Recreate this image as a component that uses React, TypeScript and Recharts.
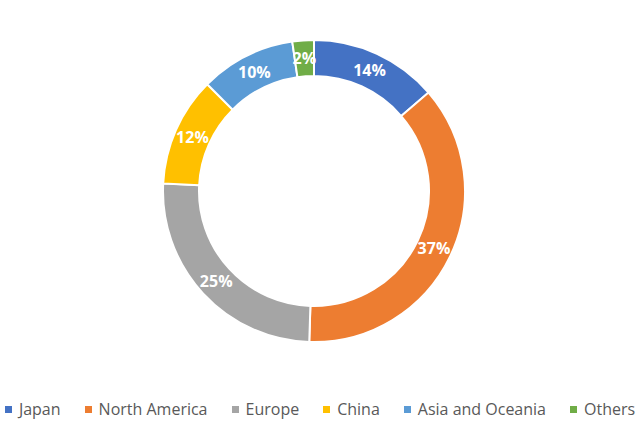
import React from "react"
import { PieChart, Pie, Cell, Legend } from "recharts"

const regions = ["Japan", "North America", "Europe", "China", "Asia and Oceania", "Others"]
const shares = [13.7, 36.8, 25.3, 11.7, 10.2, 2.3]
const colors = ["#4472C4", "#ED7D31", "#A5A5A5", "#FFC000", "#5B9BD5", "#70AD47"]

const data = regions.map((name, i) => ({ name, value: shares[i] }))

const RADIAN = Math.PI / 180

const renderLabel = (props: any) => {
  const { cx, cy, midAngle, innerRadius, outerRadius, percent } = props
  const r = (innerRadius + outerRadius) / 2
  const x = cx + r * Math.cos(-midAngle * RADIAN)
  const y = cy + r * Math.sin(-midAngle * RADIAN)
  return (
    <text
      x={x}
      y={y}
      fill="#ffffff"
      textAnchor="middle"
      dominantBaseline="central"
      fontSize={16}
      fontWeight="bold"
      fontFamily="'Open Sans', sans-serif"
    >
      {`${Math.round(percent * 100)}%`}
    </text>
  )
}

const renderLegend = () => (
  <div
    style={{
      display: "flex",
      justifyContent: "center",
      gap: 24,
      fontFamily: "'Open Sans', sans-serif",
      fontSize: 16,
      color: "#595959",
      whiteSpace: "nowrap",
    }}
  >
    {regions.map((name, i) => (
      <div key={name} style={{ display: "flex", alignItems: "center" }}>
        <span
          style={{
            display: "inline-block",
            width: 7,
            height: 7,
            background: colors[i],
            marginRight: 7,
          }}
        />
        <span>{name}</span>
      </div>
    ))}
  </div>
)

export default function App() {
  return (
    <div style={{ position: "absolute", left: 0, top: 0, background: "#fff" }}>
      <PieChart width={640} height={429}>
        <Pie
          data={data}
          dataKey="value"
          nameKey="name"
          cx={309}
          cy={186}
          innerRadius={115}
          outerRadius={151}
          startAngle={90}
          endAngle={-270}
          stroke="#ffffff"
          strokeWidth={2}
          label={renderLabel}
          labelLine={false}
          isAnimationActive={false}
        >
          {data.map((d, i) => (
            <Cell key={d.name} fill={colors[i]} />
          ))}
        </Pie>
        <Legend
          content={renderLegend}
          verticalAlign="bottom"
          wrapperStyle={{ bottom: 9 }}
        />
      </PieChart>
    </div>
  )
}
